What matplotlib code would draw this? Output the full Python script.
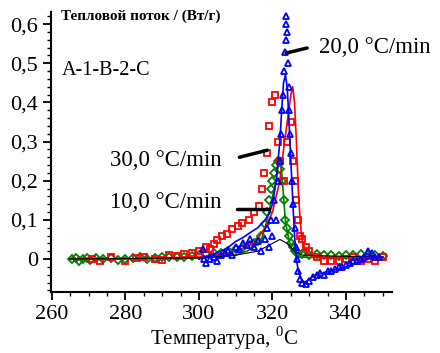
import numpy as np
import matplotlib
matplotlib.use('Agg')
import matplotlib.pyplot as plt
from matplotlib.ticker import MultipleLocator, FuncFormatter

plt.rcParams['font.family'] = ['Liberation Serif', 'DejaVu Serif']
plt.rcParams['mathtext.fontset'] = 'custom'
plt.rcParams['mathtext.rm'] = 'Liberation Serif'

# ---- data ----
# 20 C/min (blue)
blue_line_x = [300, 303, 306, 308, 310, 312, 314, 316, 318, 319, 320, 321, 322, 322.5, 323, 323.5,
               324, 324.5, 325, 325.5, 326, 326.5, 327, 328, 329, 330, 332, 334, 336, 338, 340,
               342, 344, 346, 348, 350]
blue_line_y = [0.0, 0.01, 0.02, 0.03, 0.045, 0.055, 0.068, 0.08, 0.1, 0.115, 0.14, 0.2, 0.3, 0.38,
               0.45, 0.47, 0.44, 0.35, 0.25, 0.15, 0.06, 0.0, -0.03, -0.055, -0.06, -0.05, -0.04,
               -0.035, -0.03, -0.025, -0.02, -0.012, -0.005, 0.0, 0.005, 0.005]
blue_pts_x = [301, 301.5, 302, 303, 304, 305, 306, 307, 308, 309, 310, 311, 312, 313, 314, 315, 316,
              317, 318, 318.5, 319, 319.5, 320, 320.5, 321, 321.5, 322, 322.3, 322.6, 322.9, 323.2,
              323.4, 323.6, 323.7, 323.8, 324, 324.2, 324.4, 324.6, 324.8, 325, 325.3, 325.6, 326,
              326.3, 326.6, 327, 327.5, 328, 329, 330, 331, 332, 333, 334, 335, 336, 337, 338, 339,
              340, 341, 342, 343, 344, 345, 346, 347, 348, 349]
blue_pts_y = [0.025, 0.0, -0.01, 0.0, 0.005, -0.005, 0.01, 0.015, 0.02, 0.01, 0.03, 0.025, 0.04,
              0.035, 0.05, 0.03, 0.045, 0.02, 0.05, 0.08, 0.03, 0.1, 0.06, 0.15, 0.1, 0.2, 0.25,
              0.32, 0.38, 0.42, 0.48, 0.53, 0.56, 0.6, 0.62, 0.58, 0.5, 0.44, 0.38, 0.32, 0.27, 0.2,
              0.14, 0.08, 0.03, 0.0, -0.03, -0.05, -0.06, -0.065, -0.055, -0.045, -0.04, -0.035,
              -0.04, -0.03, -0.03, -0.025, -0.02, -0.02, -0.015, -0.01, -0.005, -0.005, 0.0, 0.005,
              0.02, 0.015, 0.005, 0.005]

# 30 C/min (red)
red_line_x = [265, 280, 290, 300, 305, 310, 315, 318, 320, 322, 323, 324, 325, 325.5, 326, 326.5,
              327, 327.5, 328, 329, 330, 332, 340, 350]
red_line_y = [0.0, 0.0, 0.003, 0.005, 0.01, 0.02, 0.04, 0.08, 0.12, 0.2, 0.28, 0.35, 0.42, 0.44,
              0.4, 0.3, 0.18, 0.1, 0.05, 0.02, 0.01, 0.005, 0.005, 0.005]
red_pts_x = [271, 273, 276, 280, 283, 285, 288, 290, 292, 294, 296, 298, 300, 302, 303, 304, 305,
             306.3, 307.5, 309, 310.5, 311.8, 313.6, 315, 316.4, 317.2, 317.7, 318.5, 319, 319.9,
             320.7, 321.5, 322, 323, 324, 325, 325.5, 326, 326.5, 327, 327.5, 328, 329, 330, 332,
             334, 336, 338, 340, 342, 344, 346, 348, 350]
red_pts_y = [0.0, -0.005, 0.005, -0.005, 0.003, 0.005, 0.0, -0.002, 0.01, 0.008, 0.012, 0.015,
             0.02, 0.03, 0.025, 0.038, 0.048, 0.059, 0.065, 0.077, 0.085, 0.092, 0.1, 0.12, 0.135,
             0.178, 0.22, 0.27, 0.34, 0.4, 0.418, 0.3, 0.25, 0.2, 0.3, 0.35, 0.25, 0.2, 0.15, 0.1,
             0.06, 0.05, 0.03, 0.02, 0.005, -0.005, -0.005, -0.005, 0.0, 0.005, -0.005, 0.0,
             -0.005, 0.005]

# 10 C/min (green)
green_line_x = [265, 280, 300, 305, 310, 313, 315, 317, 318, 319, 320, 321, 321.5, 322, 322.5, 323,
                323.5, 324, 324.5, 325, 326, 327, 335, 350]
green_line_y = [0.0, 0.0, 0.003, 0.005, 0.01, 0.02, 0.03, 0.05, 0.08, 0.12, 0.16, 0.2, 0.24, 0.26,
                0.22, 0.16, 0.1, 0.07, 0.05, 0.03, 0.015, 0.005, 0.003, 0.003]
green_pts_x = [265.5, 266.5, 267.5, 268.5, 269.5, 270.5, 272, 274, 276, 278, 280, 282, 284, 286,
               288, 290, 292, 294, 296, 298, 300, 302, 304, 306, 308, 310, 312, 314, 315, 316, 317,
               318, 318.5, 319, 319.5, 320, 320.5, 321, 321.5, 322, 322.5, 323, 323.5, 324, 324.5,
               325, 325.5, 326, 327, 328, 330, 332, 334, 336, 338, 340, 342, 344, 346, 348, 350]
green_pts_y = [0.0, 0.003, -0.005, 0.0, 0.002, -0.002, 0.003, 0.0, 0.002, -0.002, 0.0, 0.002,
               0.004, 0.0, 0.003, 0.005, 0.004, 0.006, 0.005, 0.008, 0.01, 0.012, 0.015, 0.015,
               0.02, 0.025, 0.03, 0.035, 0.04, 0.045, 0.06, 0.09, 0.12, 0.15, 0.18, 0.2, 0.22, 0.24,
               0.25, 0.23, 0.2, 0.15, 0.1, 0.08, 0.06, 0.04, 0.03, 0.02, 0.015, 0.012, 0.01, 0.012,
               0.01, 0.01, 0.008, 0.01, 0.01, 0.012, 0.01, 0.01, 0.008]

# thin black trace near baseline
black_x = [265, 300, 310, 316, 318, 320, 322, 324, 326, 328, 335, 350]
black_y = [0.0, 0.003, 0.01, 0.02, 0.03, 0.04, 0.05, 0.04, 0.02, 0.01, 0.008, 0.005]

# labels
rate_labels = ['20,0 °C/min', '30,0 °C/min', '10,0 °C/min']
sample_label = 'A-1-B-2-C'
y_title = 'Тепловой поток / (Вт/г)'
x_title = r'Температура, $^{\mathrm{0}}$C'

RED = '#ff0000'
BLUE = '#0000ff'
GREEN = '#008000'

fig = plt.figure(figsize=(4.4, 3.53), dpi=100)
ax = fig.add_axes([0.116, 0.173, 0.775, 0.793])

mk = dict(linestyle='none', markerfacecolor='none', markersize=4.5, markeredgewidth=1.3)
ax.plot(green_line_x, green_line_y, color=GREEN, lw=1.2)
ax.plot(green_pts_x, green_pts_y, marker='D', color=GREEN, **mk)
ax.plot(red_line_x, red_line_y, color=RED, lw=1.2)
ax.plot(red_pts_x, red_pts_y, marker='s', color=RED, **mk)
ax.plot(black_x, black_y, color='black', lw=0.8)
ax.plot(blue_line_x, blue_line_y, color=BLUE, lw=1.2)
ax.plot(blue_pts_x, blue_pts_y, marker='^', color=BLUE, **mk)

# pointer strokes
ax.plot([323.7, 329.4], [0.526, 0.539], color='black', lw=2.5, solid_capstyle='round')
ax.plot([311.0, 318.6], [0.260, 0.278], color='black', lw=2.5, solid_capstyle='round')
ax.plot([310.4, 319.1], [0.128, 0.128], color='black', lw=2.5, solid_capstyle='round')

ax.text(332.7, 0.527, rate_labels[0], fontsize=16.5, va='baseline', ha='left')
ax.text(275.7, 0.237, rate_labels[1], fontsize=16.5, va='baseline', ha='left')
ax.text(275.7, 0.130, rate_labels[2], fontsize=16.5, va='baseline', ha='left')
ax.text(262.7, 0.47, sample_label, fontsize=14.5, va='baseline', ha='left')
ax.text(262.5, 0.612, y_title, fontsize=11, fontweight='bold', va='baseline', ha='left')

ax.set_xlim(259.8, 352.5)
ax.set_ylim(-0.084, 0.631)

ax.xaxis.set_major_locator(MultipleLocator(20))
ax.xaxis.set_minor_locator(MultipleLocator(5))
ax.yaxis.set_major_locator(MultipleLocator(0.1))
ax.yaxis.set_minor_locator(MultipleLocator(0.02))
ax.yaxis.set_major_formatter(FuncFormatter(
    lambda v, p: '0' if abs(v) < 1e-9 else ('%.1f' % v).replace('.', ',')))

ax.tick_params(axis='both', which='major', labelsize=16, length=6, width=1.3, direction='out')
ax.tick_params(axis='both', which='minor', length=3, width=1.0, direction='out')
ax.spines['top'].set_visible(False)
ax.spines['right'].set_visible(False)
ax.spines['left'].set_linewidth(1.5)
ax.spines['bottom'].set_linewidth(1.5)

fig.text(0.51, 0.042, x_title, fontsize=15, ha='center', va='center')

fig.savefig('out.png', dpi=100)
